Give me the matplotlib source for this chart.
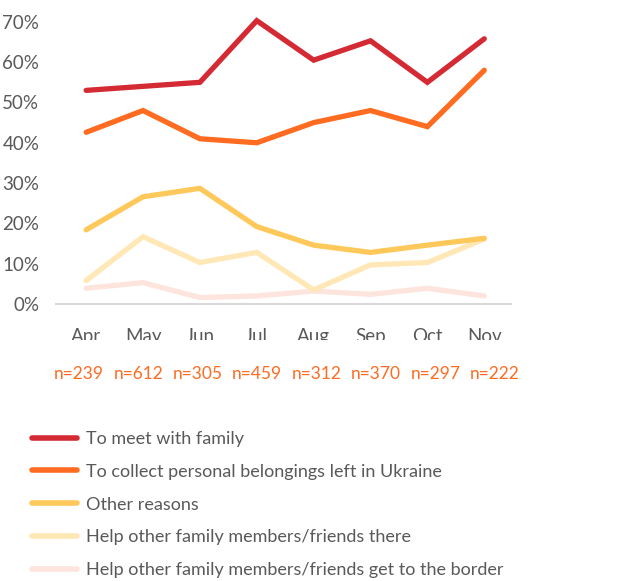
import matplotlib
matplotlib.use("Agg")
import matplotlib.pyplot as plt
from matplotlib.transforms import Bbox, TransformedBbox

plt.rcParams['font.family'] = ['Lato', 'DejaVu Sans']

months = ["Apr", "May", "Jun", "Jul", "Aug", "Sep", "Oct", "Nov"]
n_labels = ["n=239", "n=612", "n=305", "n=459", "n=312", "n=370", "n=297", "n=222"]

meet_family = [53, 54, 55, 70.3, 60.5, 65.3, 55, 65.8]
collect_belongings = [42.6, 48, 41, 40, 45, 48, 44, 58]
other_reasons = [18.4, 26.6, 28.7, 19.2, 14.6, 12.8, 14.6, 16.3]
help_there = [5.8, 16.7, 10.3, 12.8, 3.5, 9.7, 10.3, 16.1]
help_border = [3.9, 5.3, 1.6, 2.0, 3.2, 2.4, 3.9, 2.0]

series = [
    ("To meet with family", meet_family, "#d42a34"),
    ("To collect personal belongings left in Ukraine", collect_belongings, "#ff6b21"),
    ("Other reasons", other_reasons, "#ffc85a"),
    ("Help other family members/friends there", help_there, "#ffe8b6"),
    ("Help other family members/friends get to the border", help_border, "#fde4dd"),
]

W, H = 643, 581
fig = plt.figure(figsize=(W / 100, H / 100), dpi=100)
ax = fig.add_axes([56 / W, 1 - 304 / H, (511 - 56) / W, (304 - 13.8) / H])

x = list(range(len(months)))
handles = []
for label, vals, color in reversed(series):
    ln, = ax.plot(x, [v / 100 for v in vals], color=color, lw=3.8,
                  solid_capstyle='round', solid_joinstyle='miter', label=label)
    handles.append(ln)
handles = handles[::-1]

ax.set_xlim(-0.53, 7.47)
ax.set_ylim(0, 0.72)
ax.set_yticks([i / 10 for i in range(8)])
ax.set_yticklabels([f"{i * 10}%" for i in range(8)])
for s in ["top", "right", "left"]:
    ax.spines[s].set_visible(False)
ax.spines["bottom"].set_color("#d9d9d9")
ax.spines["bottom"].set_linewidth(1.5)
ax.tick_params(axis='y', length=0, pad=12, labelsize=13.5, labelcolor="#595959")
ax.tick_params(axis='x', length=0, pad=17, labelsize=13.5, labelcolor="#595959")
ax.set_xticks(x)
ax.set_xticklabels(months, va='top')

clip = TransformedBbox(Bbox([[0, (H - 340) / H], [1, 1]]), fig.transFigure)
for t in ax.get_xticklabels():
    t.set_clip_on(True)
    t.set_clip_box(clip)

for i, nl in enumerate(n_labels):
    xp = (79 + i * 59.4) / W
    fig.text(xp, 1 - 374 / H, nl, ha='center', va='center', fontsize=12.5,
             color="#ff6b21")

leg = fig.legend(handles=handles, loc='upper left',
                 bbox_to_anchor=(32 / W, 1 - 431 / H), frameon=False,
                 borderaxespad=0, borderpad=0,
                 fontsize=13, handlelength=2.5, handletextpad=0.5,
                 labelspacing=0.93, labelcolor="#595959")
for lh in leg.get_lines():
    lh.set_linewidth(4)

fig.savefig("out.png", dpi=100)
